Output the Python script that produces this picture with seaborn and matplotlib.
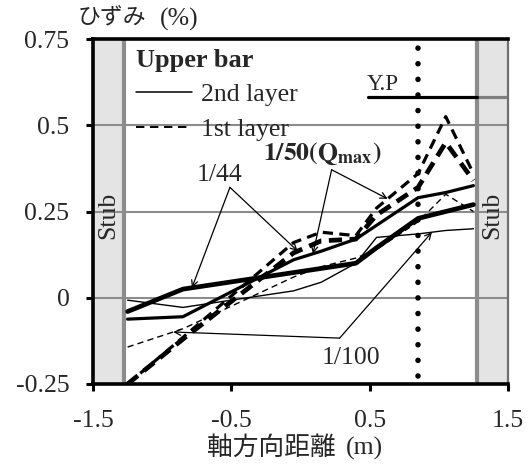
import numpy as np
import pandas as pd
import matplotlib
matplotlib.use("Agg")
import matplotlib.pyplot as plt
from matplotlib.lines import Line2D
from matplotlib.patches import Rectangle
import seaborn as sns

# Strain gauge positions along the member axis (m)
gauge_x = [-1.25, -0.85, -0.05, 0.15, 0.40, 0.55, 0.85, 1.05, 1.25]

# Upper bar strain (%) - 2nd layer (solid) and 1st layer (dashed)
strain_2nd_r100 = [-0.007, -0.028, 0.020, 0.045, 0.100, 0.175, 0.185, 0.195, 0.200]
strain_1st_r100 = [-0.143, -0.090, 0.060, 0.090, 0.115, 0.140, 0.220, 0.300, 0.250]
strain_2nd_r50 = [-0.062, -0.055, 0.110, 0.135, 0.170, 0.210, 0.290, 0.305, 0.325]
strain_1st_r50 = [-0.250, -0.115, 0.160, 0.190, 0.180, 0.260, 0.360, 0.525, 0.360]
strain_2nd_r44 = [-0.040, 0.025, 0.073, 0.085, 0.100, 0.145, 0.230, 0.250, 0.270]
strain_1st_r44 = [-0.250, -0.120, 0.130, 0.165, 0.170, 0.240, 0.320, 0.450, 0.340]

# Stub faces, yield-hinge location and yield strain
stub_edge = 1.275
yield_x = 0.85
yield_strain = 0.582

x_ticks = [-1.5, -0.5, 0.5, 1.5]
y_ticks = [-0.25, 0, 0.25, 0.5, 0.75]
y_tick_labels = ["-0.25", "0", "0.25", "0.5", "0.75"]

sns.set_style("white")
plt.rcParams["font.family"] = ["Liberation Serif", "Noto Sans CJK JP"]
plt.rcParams["mathtext.fontset"] = "stix"

FS = 18.5
W, H = 532, 467

fig = plt.figure(figsize=(W / 100, H / 100), dpi=100)
ax = fig.add_axes([93 / W, 1 - 384 / H, 415 / W, 345 / H])
ax.set_xlim(-1.5, 1.5)
ax.set_ylim(-0.25, 0.75)

# stubs at both ends
for x0 in (-1.5, stub_edge):
    ax.add_patch(Rectangle((x0, -0.25), 1.5 - stub_edge, 1.0,
                           facecolor="#e4e4e4", edgecolor="none", zorder=0))
for xe in (-stub_edge, stub_edge):
    ax.axvline(xe, color="#8c8c8c", lw=3.0, zorder=1)

# horizontal grid
for yv in (0, 0.25, 0.5):
    ax.axhline(yv, color="#8c8c8c", lw=1.5, zorder=0.5)

# strain distributions
series = [
    (strain_2nd_r100, 1.0, "-"),
    (strain_1st_r100, 1.0, (0, (4.5, 3.0))),
    (strain_2nd_r50, 2.3, "-"),
    (strain_1st_r50, 2.3, (0, (3.2, 2.0))),
    (strain_2nd_r44, 3.4, "-"),
    (strain_1st_r44, 3.4, (0, (2.8, 1.6))),
]
for vals, lw, ls in series:
    df = pd.DataFrame({"x": gauge_x, "strain": vals})
    sns.lineplot(data=df, x="x", y="strain", ax=ax, color="black",
                 linewidth=lw, linestyle=ls, sort=False, zorder=3)
ax.set_xlabel("")
ax.set_ylabel("")

# yield hinge line (dots) and yield strain level
ax.axvline(yield_x, ymin=0.022, ymax=0.98, color="black", lw=4.0,
           linestyle=(0, (0.01, 2.8)), dash_capstyle="round", zorder=4)
ax.plot([0.49, stub_edge], [yield_strain, yield_strain], color="black", lw=2.3, zorder=4)
ax.plot([stub_edge, 1.5], [yield_strain, yield_strain], color="#7f7f7f", lw=2.3, zorder=2)
ax.text(0.478, 0.603, "Y.P", fontsize=16.5, ha="left", va="baseline")

# stub labels
for xs in (-(1.5 + stub_edge) / 2, (1.5 + stub_edge) / 2):
    ax.text(xs, 0.24, "Stub", rotation=90, fontsize=FS, ha="center", va="center")


def arrow(x_from, y_from, x_to, vals):
    y_to = float(np.interp(x_to, gauge_x, vals))
    ax.annotate("", xy=(x_to, y_to), xytext=(x_from, y_from),
                arrowprops=dict(arrowstyle="->", lw=0.9, color="black",
                                shrinkA=0, shrinkB=0, mutation_scale=11),
                zorder=5)


ax.text(-0.749, 0.337, "1/44", fontsize=FS, ha="left", va="baseline")
arrow(-0.51, 0.32, -0.785, strain_2nd_r44)
arrow(-0.51, 0.32, -0.02, strain_1st_r44)

ax.text(-0.273, 0.40, r"$\mathbf{1/50(Q_{max})}$", fontsize=FS, ha="left", va="baseline")
arrow(0.225, 0.371, 0.09, strain_2nd_r50)
arrow(0.225, 0.371, 0.63, strain_1st_r50)

ax.text(0.153, -0.192, "1/100", fontsize=FS, ha="left", va="baseline")
arrow(0.283, -0.117, -0.92, strain_1st_r100)
arrow(0.283, -0.117, 0.95, strain_2nd_r100)

# legend
handles = [Line2D([], [], color="black", lw=1.1),
           Line2D([], [], color="black", lw=1.4, linestyle=(0, (4.3, 2.9)))]
leg = ax.legend(handles, ["2nd layer", "1st layer"], title="Upper bar",
                loc="upper left", bbox_to_anchor=(0.103, 0.972), frameon=False,
                fontsize=FS, handlelength=2.2, handletextpad=0.35,
                labelspacing=0.45, borderpad=0, borderaxespad=0,
                alignment="left",
                title_fontproperties={"weight": "bold", "size": FS + 0.5})

# axes frame and ticks
for side in ("left", "bottom", "top"):
    ax.spines[side].set_color("black")
    ax.spines[side].set_linewidth(2.6)
ax.spines["right"].set_color("#6f6f6f")
ax.spines["right"].set_linewidth(1.6)
ax.set_xticks(x_ticks)
ax.set_xticklabels([f"{v:g}" for v in x_ticks])
ax.set_yticks(y_ticks)
ax.set_yticklabels(y_tick_labels)
ax.tick_params(axis="both", which="both", direction="out", length=5,
               width=2.2, color="black", labelsize=FS)
ax.tick_params(axis="y", pad=12, left=True)
ax.tick_params(axis="x", pad=14, bottom=True)
ax.grid(False)

# axis titles (Japanese part and unit part)
fig.text(78 / W, 1 - 18 / H, "ひずみ", fontsize=16.5, ha="left", va="center")
fig.text(160 / W, 1 - 19 / H, "(%)", fontsize=FS, ha="left", va="center")
fig.text(207 / W, 1 - 448 / H, "軸方向距離", fontsize=18.5, ha="left", va="center")
fig.text(346 / W, 1 - 448 / H, "(m)", fontsize=FS, ha="left", va="center")

fig.savefig("out.png", dpi=100)
